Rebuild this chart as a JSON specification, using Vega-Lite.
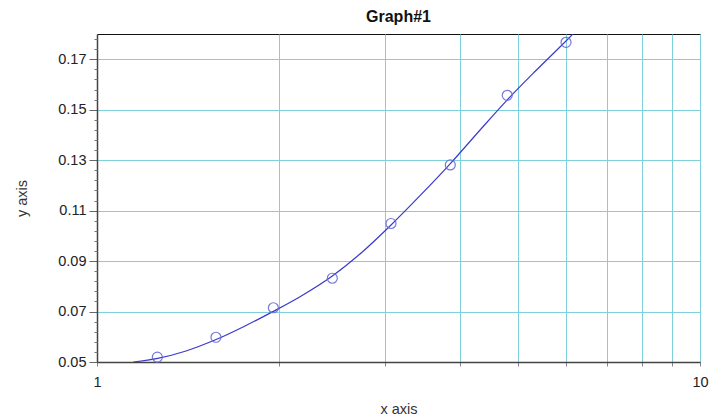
{
  "$schema": "https://vega.github.io/schema/vega-lite/v6.json",
  "autosize": "none",
  "width": 603,
  "height": 328,
  "padding": {"left": 97, "top": 34, "right": 9, "bottom": 56},
  "background": "white",
  "config": {
    "font": "Liberation Sans",
    "view": {"stroke": "#111", "strokeWidth": 1},
    "axis": {"labelFont": "Liberation Sans", "titleFont": "Liberation Sans", "labelColor": "#222", "titleColor": "#333", "titleFontWeight": "normal", "gridOpacity": 1, "gridColor": "#7fd0dd"}
  },
  "title": {"text": "Graph#1", "fontSize": 16, "fontWeight": "bold", "font": "Liberation Sans", "color": "#111", "anchor": "middle", "offset": 9},
  "datasets": {
    "curve": [
      {"x": 1.1487, "y": 0.0500},
      {"x": 1.2609, "y": 0.05145},
      {"x": 1.4050, "y": 0.05437},
      {"x": 1.5753, "y": 0.05889},
      {"x": 1.7600, "y": 0.06429},
      {"x": 1.9607, "y": 0.07007},
      {"x": 2.1712, "y": 0.07589},
      {"x": 2.4563, "y": 0.08409},
      {"x": 2.7505, "y": 0.09350},
      {"x": 3.0735, "y": 0.10431},
      {"x": 3.4330, "y": 0.11592},
      {"x": 3.8548, "y": 0.12865},
      {"x": 4.3000, "y": 0.14146},
      {"x": 4.7907, "y": 0.15390},
      {"x": 5.3456, "y": 0.16552},
      {"x": 5.9948, "y": 0.17724},
      {"x": 6.1640, "y": 0.18013}
    ],
    "points": [
      {"x": 1.259, "y": 0.0519},
      {"x": 1.575, "y": 0.0598},
      {"x": 1.961, "y": 0.0715},
      {"x": 2.456, "y": 0.0832},
      {"x": 3.073, "y": 0.1049},
      {"x": 3.854, "y": 0.1281},
      {"x": 4.790, "y": 0.1557},
      {"x": 5.995, "y": 0.1767}
    ]
  },
  "layer": [
    {
      "data": {"name": "curve"},
      "mark": {"type": "line", "color": "#3a3acc", "strokeWidth": 1.2, "clip": true, "interpolate": "monotone"},
      "encoding": {
        "x": {"field": "x", "type": "quantitative",
          "scale": {"type": "log", "domain": [1, 10], "nice": false},
          "axis": {"title": "x axis", "titleFontSize": 14.5, "titlePadding": 14,
            "values": [1, 2, 3, 4, 5, 6, 7, 8, 9, 10],
            "labelExpr": "datum.value == 1 || datum.value == 10 ? datum.value : ''",
            "labelFontSize": 14.5, "labelPadding": 9, "tickSize": 4, "tickColor": "#888",
            "grid": true, "gridColor": "#7fd0dd", "gridWidth": 1,
            "domainColor": "#444", "domainWidth": 1.5, "labelFlush": false}},
        "y": {"field": "y", "type": "quantitative",
          "scale": {"domain": [0.05, 0.18], "nice": false, "zero": false},
          "axis": {"title": "y axis", "titleFontSize": 14.5, "titlePadding": 28,
            "values": [0.05, 0.07, 0.09, 0.11, 0.13, 0.15, 0.17],
            "format": ".2f", "labelFontSize": 14.5, "labelPadding": 3, "tickSize": 8, "tickColor": "#666",
            "grid": true, "gridColor": "#7fd0dd", "gridWidth": 1,
            "domainColor": "#444", "domainWidth": 1.5}}
      }
    },
    {
      "data": {"name": "points"},
      "mark": {"type": "point", "shape": "circle", "filled": false, "size": 100, "stroke": "#6a6ad6", "strokeWidth": 1.2, "opacity": 0.9},
      "encoding": {
        "x": {"field": "x", "type": "quantitative", "scale": {"type": "log", "domain": [1, 10], "nice": false}},
        "y": {"field": "y", "type": "quantitative",
          "scale": {"domain": [0.05, 0.18], "nice": false, "zero": false},
          "axis": {"orient": "left", "title": null, "labels": false, "grid": false, "domain": false,
            "values": [0.054, 0.058, 0.062, 0.066, 0.074, 0.078, 0.082, 0.086, 0.094, 0.098, 0.102, 0.106, 0.114, 0.118, 0.122, 0.126, 0.134, 0.138, 0.142, 0.146, 0.154, 0.158, 0.162, 0.166, 0.174, 0.178],
            "tickSize": 3, "tickColor": "#777"}}
      }
    }
  ],
  "resolve": {"axis": {"y": "independent"}}
}
